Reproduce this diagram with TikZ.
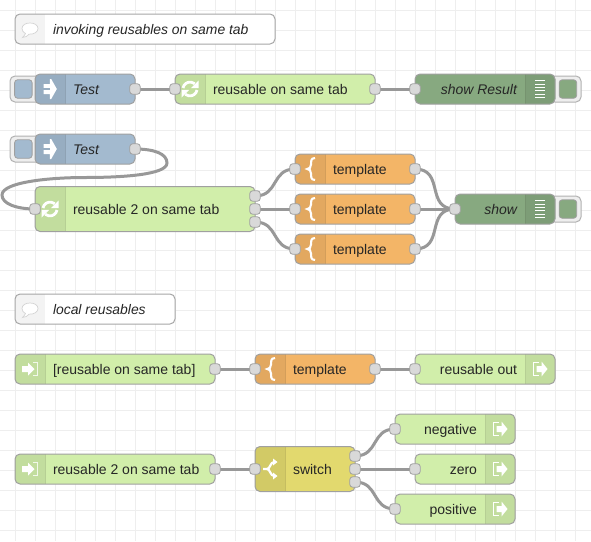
\documentclass[tikz,border=0pt]{standalone}
\usepackage{fontspec}
\setmainfont{Liberation Sans}
\usetikzlibrary{calc}
\pgfdeclarelayer{gridlayer}
\pgfdeclarelayer{wirelayer}
\pgfsetlayers{gridlayer,wirelayer,main}
\definecolor{injectc}{HTML}{A3BACF}
\definecolor{linkc}{HTML}{D1EEAA}
\definecolor{tmplc}{HTML}{F3B567}
\definecolor{debugc}{HTML}{87A980}
\definecolor{switchc}{HTML}{E2D96E}
\definecolor{edgec}{HTML}{A0A0A0}
\definecolor{portc}{HTML}{D9D9D9}
\definecolor{gridc}{HTML}{EEEEEE}
\tikzset{
  boxbase/.style={rectangle,rounded corners=5pt,inner sep=0pt,outer sep=0pt,anchor=north west},
  portbox/.style={rectangle,rounded corners=3pt,draw=edgec,fill=portc,line width=0.8pt,minimum width=10.5pt,minimum height=10.5pt,inner sep=0pt,outer sep=0pt},
  wirestyle/.style={draw=edgec!95!black,line width=3pt},
  lab/.style={inner sep=0pt,outer sep=0pt,font=\fontsize{14}{16}\selectfont,text=black!85},
  labl/.style={lab,anchor=base west},
  labr/.style={lab,anchor=base east},
}
% name, x, y, w, h, colour, section x
\newcommand{\flownode}[7]{%
  \node[boxbase,fill=#6,minimum width=#4pt,minimum height=#5pt] (#1) at (#2,#3) {};
  \begin{scope}
    \clip[rounded corners=5pt] (#1.north west) rectangle (#1.south east);
    \fill[#6!93!black] (#7,#3) rectangle ++(30,#5);
    \draw[#6!87!black,line width=0.6pt] (#7,#3) -- ++(0,#5) (#7+30,#3) -- ++(0,#5);
  \end{scope}
  \draw[edgec,line width=1pt,rounded corners=5pt] (#1.north west) rectangle (#1.south east);
}
% name, x, y, w
\newcommand{\commentnode}[4]{%
  \node[boxbase,fill=white,minimum width=#4pt,minimum height=30pt] (#1) at (#2,#3) {};
  \begin{scope}
    \clip[rounded corners=5pt] (#1.north west) rectangle (#1.south east);
    \fill[gridc!70!white] (#2,#3) rectangle ++(30,30);
  \end{scope}
  \draw[black!35,line width=1pt,rounded corners=5pt] (#1.north west) rectangle (#1.south east);
  \draw[black!17,line width=0.7pt,fill=white] (#2+10.5,#3+19.6) .. controls (#2+9.5,#3+21.5) and (#2+8.5,#3+22.5) .. (#2+7.5,#3+23.5) .. controls (#2+10.5,#3+23.5) and (#2+12.5,#3+22) .. (#2+14,#3+20.2) .. controls (#2+19,#3+20.4) and (#2+23,#3+18) .. (#2+23,#3+14.5) .. controls (#2+23,#3+11) and (#2+19.5,#3+9) .. (#2+15,#3+9) .. controls (#2+10.5,#3+9) and (#2+7,#3+11) .. (#2+7,#3+14.5) .. controls (#2+7,#3+16.8) and (#2+8.5,#3+18.6) .. cycle;
}
% outer button: name, x, y, inner x, colour
\newcommand{\buttonbox}[5]{%
  \node[boxbase,fill=gridc,draw=black!30,line width=1pt,minimum width=31pt,minimum height=26pt] (#1) at (#2,#3) {};
  \node[boxbase,rounded corners=3pt,fill=#5,draw=edgec,line width=0.8pt,minimum width=17.5pt,minimum height=18.5pt] (#1i) at (#4,#3+3.75) {};
}
\newcommand{\portat}[3]{\node[portbox] (#1) at (#2,#3) {};}
\newcommand{\wire}[3]{\begin{pgfonlayer}{wirelayer}\draw[wirestyle] (#1.center) .. controls ([xshift=#3pt]#1.center) and ([xshift=-#3pt]#2.center) .. (#2.center);\end{pgfonlayer}}
% icons: centre x,y
\newcommand{\iconinject}[2]{%
  \fill[white] (#1-6.5,#2-5) -- (#1-0.2,#2-5) -- (#1-0.2,#2-10) -- (#1+1.2,#2-10) -- (#1+6.8,#2) -- (#1+1.2,#2+10) -- (#1-0.2,#2+10) -- (#1-0.2,#2+5) -- (#1-6.5,#2+5) -- cycle;
  \fill[injectc!93!black] (#1-6.6,#2-1) rectangle (#1-0.2,#2+1);
}
\newcommand{\iconsync}[2]{%
  \draw[white,line width=2.8pt] (#1-7,#2-1) arc[start angle=190,end angle=310,radius=7.2];
  \draw[white,line width=2.8pt] (#1+7,#2+1) arc[start angle=10,end angle=130,radius=7.2];
  \fill[white] (#1+8.5,#2-8.5) -- (#1+8.5,#2-0.8) -- (#1+0.8,#2-0.8) -- cycle;
  \fill[white] (#1-8.5,#2+8.5) -- (#1-8.5,#2+0.8) -- (#1-0.8,#2+0.8) -- cycle;
}
\newcommand{\iconbrace}[2]{%
  \draw[white,line width=2.1pt] (#1+4,#2-11) .. controls (#1-0.5,#2-11) and (#1+0,#2-7) .. (#1+0,#2-4.5) .. controls (#1+0,#2-1.5) and (#1-1.5,#2) .. (#1-3.8,#2) .. controls (#1-1.5,#2) and (#1+0,#2+1.5) .. (#1+0,#2+4.5) .. controls (#1+0,#2+7) and (#1-0.5,#2+11) .. (#1+4,#2+11);
}
\newcommand{\iconlist}[2]{%
  \foreach \k in {-8.3,-5,-1.7,1.7,5,8.3} \draw[white,line width=0.9pt] (#1-5,#2+\k) -- (#1+5,#2+\k);
}
\newcommand{\iconlink}[2]{%
  \draw[white,line width=1.8pt] (#1-1,#2-6.5) -- (#1-6.5,#2-6.5) -- (#1-6.5,#2+6.5) -- (#1-1,#2+6.5);
  \fill[white] (#1-3.5,#2-3) -- (#1+1.5,#2-3) -- (#1+1.5,#2-7.5) -- (#1+7.5,#2) -- (#1+1.5,#2+7.5) -- (#1+1.5,#2+3) -- (#1-3.5,#2+3) -- cycle;
}
\newcommand{\iconlinkin}[2]{%
  \draw[white,line width=1.4pt,opacity=0.8] (#1+3,#2-6.3) -- (#1+7.2,#2-6.3) -- (#1+7.2,#2+6.3) -- (#1+3,#2+6.3);
  \fill[white] (#1-8,#2-3) -- (#1-2,#2-3) -- (#1-2,#2-6.5) -- (#1+4.5,#2) -- (#1-2,#2+6.5) -- (#1-2,#2+3) -- (#1-8,#2+3) -- cycle;
}
\newcommand{\iconswitch}[2]{%
  \draw[white,line width=2.2pt] (#1-7,#2) -- (#1-3,#2) .. controls (#1,#2) and (#1+0.5,#2-7) .. (#1+4,#2-7);
  \draw[white,line width=2.2pt] (#1-3,#2) .. controls (#1,#2) and (#1+0.5,#2+7) .. (#1+4,#2+7);
  \fill[white] (#1+3,#2-10.5) -- (#1+7.5,#2-7) -- (#1+3,#2-3.5) -- cycle;
  \fill[white] (#1+3,#2+10.5) -- (#1+7.5,#2+7) -- (#1+3,#2+3.5) -- cycle;
}
\begin{document}
\begin{tikzpicture}[x=1pt,y=-1pt]
\useasboundingbox (0,0) rectangle (591,541);
\begin{pgfonlayer}{gridlayer}
  \fill[white] (0,0) rectangle (591,541);
  \foreach \gx in {15,35,...,575} \draw[gridc,line width=1pt] (\gx,0) -- (\gx,541);
  \foreach \gy in {10,30,...,530} \draw[gridc,line width=1pt] (0,\gy) -- (591,\gy);
\end{pgfonlayer}

% comments
\commentnode{c1}{15}{14}{260}
\node[labl,font=\fontsize{13.9}{16}\selectfont\itshape] (c1t) at (53,34) {invoking reusables on same tab};
\commentnode{c2}{15}{294}{160}
\node[labl,font=\fontsize{13.9}{16}\selectfont\itshape] (c2t) at (53,314) {local reusables};

% row 1
\buttonbox{b1}{10}{76}{14.6}{injectc}
\flownode{test1}{35}{74}{100}{30}{injectc}{35}
\iconinject{50}{89}
\node[labl,font=\fontsize{14}{16}\selectfont\itshape] (test1t) at (73,94) {Test};
\flownode{reu1}{175}{74}{200}{30}{linkc}{175}
\iconsync{190}{89}
\node[labl] (reu1t) at (213,94) {reusable on same tab};
\buttonbox{b2}{550}{76}{559.2}{debugc}
\flownode{res}{415}{74}{140}{30}{debugc}{525}
\iconlist{540}{89}
\node[labr,font=\fontsize{14}{16}\selectfont\itshape] (rest) at (517,94) {show Result};
\portat{p1o}{135}{89}
\portat{p2i}{175}{89}
\portat{p2o}{375}{89}
\portat{p3i}{415}{89}
\wire{p1o}{p2i}{10}
\wire{p2o}{p3i}{10}

% row 2
\buttonbox{b3}{10}{136}{14.6}{injectc}
\flownode{test2}{35}{134}{100}{30}{injectc}{35}
\iconinject{50}{149}
\node[labl,font=\fontsize{14}{16}\selectfont\itshape] (test2t) at (73,154) {Test};
\flownode{reu2}{35}{186.5}{220}{45}{linkc}{35}
\iconsync{50}{209}
\node[labl] (reu2t) at (73,214) {reusable 2 on same tab};
\flownode{tm1}{295}{154}{120}{30}{tmplc}{295}
\iconbrace{311}{169}
\node[labl] (tm1t) at (333,174) {template};
\flownode{tm2}{295}{194}{120}{30}{tmplc}{295}
\iconbrace{311}{209}
\node[labl] (tm2t) at (333,214) {template};
\flownode{tm3}{295}{234}{120}{30}{tmplc}{295}
\iconbrace{311}{249}
\node[labl] (tm3t) at (333,254) {template};
\buttonbox{b4}{550}{196}{559.2}{debugc}
\flownode{shw}{455}{194}{100}{30}{debugc}{525}
\iconlist{540}{209}
\node[labr,font=\fontsize{14}{16}\selectfont\itshape] (shwt) at (517,214) {show};
\portat{q1o}{135}{149}
\portat{q2i}{35}{209}
\portat{q2a}{255}{196}
\portat{q2b}{255}{209}
\portat{q2c}{255}{222}
\portat{t1i}{295}{169}
\portat{t2i}{295}{209}
\portat{t3i}{295}{249}
\portat{t1o}{415}{169}
\portat{t2o}{415}{209}
\portat{t3o}{415}{249}
\portat{s1i}{455}{209}
\coordinate (loopr) at (167,163);
\coordinate (loopm) at (85,177.5);
\coordinate (loopl) at (2,195);
\begin{pgfonlayer}{wirelayer}
\draw[wirestyle] (q1o.center) .. controls ([xshift=20pt]q1o.center) and ([yshift=9pt]loopr) .. (loopr)
  .. controls ([yshift=-12pt]loopr) and ([xshift=35pt]loopm) .. (loopm)
  .. controls ([xshift=-35pt]loopm) and ([yshift=13pt]loopl) .. (loopl)
  .. controls ([yshift=-9pt]loopl) and ([xshift=-18pt]q2i.center) .. (q2i.center);
\end{pgfonlayer}
\wire{q2a}{t1i}{24}
\wire{q2b}{t2i}{10}
\wire{q2c}{t3i}{24}
\wire{t1o}{s1i}{30}
\wire{t2o}{s1i}{10}
\wire{t3o}{s1i}{30}

% row 3
\flownode{lk1}{15}{354}{200}{30}{linkc}{15}
\iconlinkin{30}{369}
\node[labl] (lk1t) at (53,374) {[reusable on same tab]};
\flownode{tm4}{255}{354}{120}{30}{tmplc}{255}
\iconbrace{271}{369}
\node[labl] (tm4t) at (293,374) {template};
\flownode{out1}{415}{354}{140}{30}{linkc}{525}
\iconlink{540}{369}
\node[labr] (out1t) at (517,374) {reusable out};
\portat{r1o}{215}{369}
\portat{r2i}{255}{369}
\portat{r2o}{375}{369}
\portat{r3i}{415}{369}
\wire{r1o}{r2i}{10}
\wire{r2o}{r3i}{10}

% row 4
\flownode{lk2}{15}{454}{200}{30}{linkc}{15}
\iconlinkin{30}{469}
\node[labl] (lk2t) at (53,474) {reusable 2 on same tab};
\flownode{sw}{255}{446.5}{100}{45}{switchc}{255}
\iconswitch{270}{469}
\node[labl] (swt) at (293,474) {switch};
\flownode{neg}{395}{414}{120}{30}{linkc}{485}
\iconlink{500}{429}
\node[labr] (negt) at (477,434) {negative};
\flownode{zer}{415}{454}{100}{30}{linkc}{485}
\iconlink{500}{469}
\node[labr] (zert) at (477,474) {zero};
\flownode{pos}{395}{494}{120}{30}{linkc}{485}
\iconlink{500}{509}
\node[labr] (post) at (477,514) {positive};
\portat{u1o}{215}{469}
\portat{u2i}{255}{469}
\portat{u2a}{355}{456}
\portat{u2b}{355}{469}
\portat{u2c}{355}{482}
\portat{u3i}{395}{429}
\portat{u4i}{415}{469}
\portat{u5i}{395}{509}
\wire{u1o}{u2i}{10}
\wire{u2a}{u3i}{24}
\wire{u2b}{u4i}{10}
\wire{u2c}{u5i}{24}
\end{tikzpicture}
\end{document}
